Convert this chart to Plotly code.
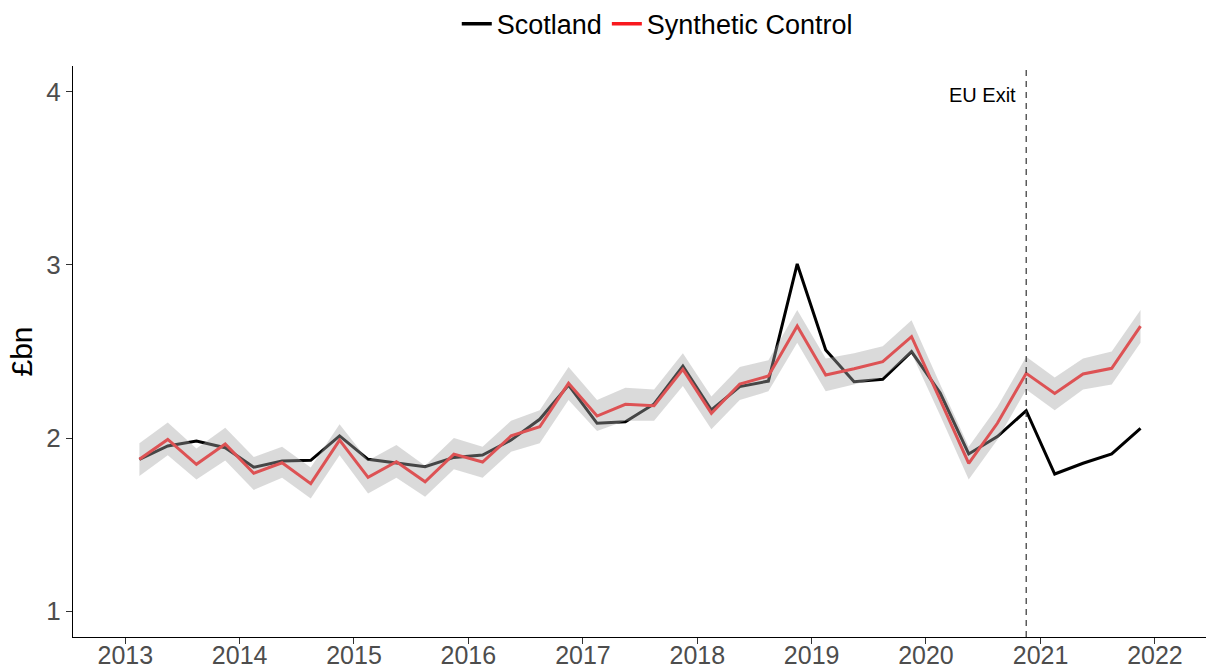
import pandas as pd
import plotly.graph_objects as go

# Quarterly periods, 2013 Q1 to 2021 Q4
quarters = pd.period_range("2013Q1", "2021Q4", freq="Q")

# Exports, £bn
scotland = [
    1.877, 1.954, 1.983, 1.944,
    1.831, 1.867, 1.871, 2.012,
    1.877, 1.857, 1.834, 1.888,
    1.902, 1.988, 2.108, 2.306,
    2.085, 2.094, 2.197, 2.416,
    2.162, 2.297, 2.329, 3.006,
    2.509, 2.325, 2.339, 2.499,
    2.260, 1.908, 2.008, 2.158,
    1.792, 1.854, 1.908, 2.056,
]
synthetic = [
    1.877, 1.992, 1.848, 1.965,
    1.796, 1.857, 1.736, 1.988,
    1.773, 1.863, 1.747, 1.907,
    1.861, 2.012, 2.065, 2.316,
    2.127, 2.195, 2.187, 2.397,
    2.143, 2.312, 2.358, 2.647,
    2.364, 2.400, 2.441, 2.586,
    2.220, 1.854, 2.085, 2.374,
    2.258, 2.370, 2.403, 2.647,
]
synthetic_lower = [
    1.78, 1.90, 1.76, 1.87,
    1.70, 1.77, 1.65, 1.90,
    1.68, 1.77, 1.66, 1.82,
    1.77, 1.92, 1.97, 2.22,
    2.04, 2.10, 2.10, 2.30,
    2.05, 2.22, 2.27, 2.55,
    2.27, 2.31, 2.35, 2.49,
    2.13, 1.76, 1.99, 2.28,
    2.16, 2.28, 2.31, 2.55,
]
synthetic_upper = [
    1.97, 2.09, 1.94, 2.06,
    1.89, 1.95, 1.83, 2.08,
    1.87, 1.96, 1.84, 2.00,
    1.95, 2.10, 2.16, 2.41,
    2.22, 2.29, 2.28, 2.49,
    2.24, 2.41, 2.45, 2.74,
    2.46, 2.49, 2.53, 2.68,
    2.31, 1.95, 2.18, 2.47,
    2.35, 2.46, 2.50, 2.74,
]
eu_exit_quarter = "2020Q4"
y_ticks = [1, 2, 3, 4]

# plot each quarter at its midpoint
x = [p.start_time + (p.end_time - p.start_time) / 2 for p in quarters]
x_exit = x[list(quarters.astype(str)).index(eu_exit_quarter)]

BLACK = "#000000"
RED_LINE = "rgb(221,82,84)"
BAND = "rgba(166,166,166,0.42)"
TICK_GREY = "#4D4D4D"
FONT = "Liberation Sans, Arial, sans-serif"

fig = go.Figure()

fig.add_trace(go.Scatter(
    x=x, y=scotland, mode="lines", name="Scotland", showlegend=False,
    line=dict(color=BLACK, width=3), hoverinfo="skip",
))
fig.add_trace(go.Scatter(
    x=x, y=synthetic_lower, mode="lines", line=dict(width=0),
    showlegend=False, hoverinfo="skip",
))
fig.add_trace(go.Scatter(
    x=x, y=synthetic_upper, mode="lines", line=dict(width=0),
    fill="tonexty", fillcolor=BAND, showlegend=False, hoverinfo="skip",
))
fig.add_trace(go.Scatter(
    x=x, y=synthetic, mode="lines", name="Synthetic Control", showlegend=False,
    line=dict(color=RED_LINE, width=3), hoverinfo="skip",
))

# legend keys
fig.add_trace(go.Scatter(x=[None], y=[None], mode="lines", name="Scotland",
                         line=dict(color=BLACK, width=3.5)))
fig.add_trace(go.Scatter(x=[None], y=[None], mode="lines", name="Synthetic Control",
                         line=dict(color="#F8191E", width=3.5)))

fig.add_vline(x=x_exit, line=dict(color="#333333", width=1.2, dash="6px,5px"))

fig.add_annotation(
    x="2020-07-01", y=3.98, xref="x", yref="y", text="EU Exit", showarrow=False,
    font=dict(family=FONT, size=20, color=BLACK),
)

fig.update_layout(
    width=1206, height=669,
    margin=dict(l=73, r=0, t=66, b=32),
    plot_bgcolor="white", paper_bgcolor="white",
    font=dict(family=FONT, color=BLACK),
    showlegend=True,
    legend=dict(
        orientation="h", traceorder="normal",
        xref="container", yref="container",
        x=0.545, xanchor="center", y=0.964, yanchor="middle",
        font=dict(family=FONT, size=27, color=BLACK),
        itemwidth=30, bgcolor="rgba(0,0,0,0)",
    ),
    xaxis=dict(
        type="date", range=["2012-07-18", "2022-06-13"],
        tick0="2013-01-01", dtick="M12", tickformat="%Y",
        showgrid=False, zeroline=False,
        showline=True, linecolor=BLACK, linewidth=1.2,
        ticks="outside", ticklen=6, tickwidth=1.1, tickcolor="#333333",
        tickfont=dict(family=FONT, size=25, color=TICK_GREY),
        ticklabelstandoff=-10,
        automargin=False,
    ),
    yaxis=dict(
        range=[0.85, 4.15], tickvals=y_ticks,
        showgrid=False, zeroline=False,
        showline=True, linecolor=BLACK, linewidth=1.2,
        ticks="outside", ticklen=6, tickwidth=1.1, tickcolor="#333333",
        tickfont=dict(family=FONT, size=26, color=TICK_GREY),
        title=dict(text="£bn", font=dict(family=FONT, size=30, color=BLACK), standoff=4),
        automargin=False,
    ),
)

fig.write_html("out.html")
